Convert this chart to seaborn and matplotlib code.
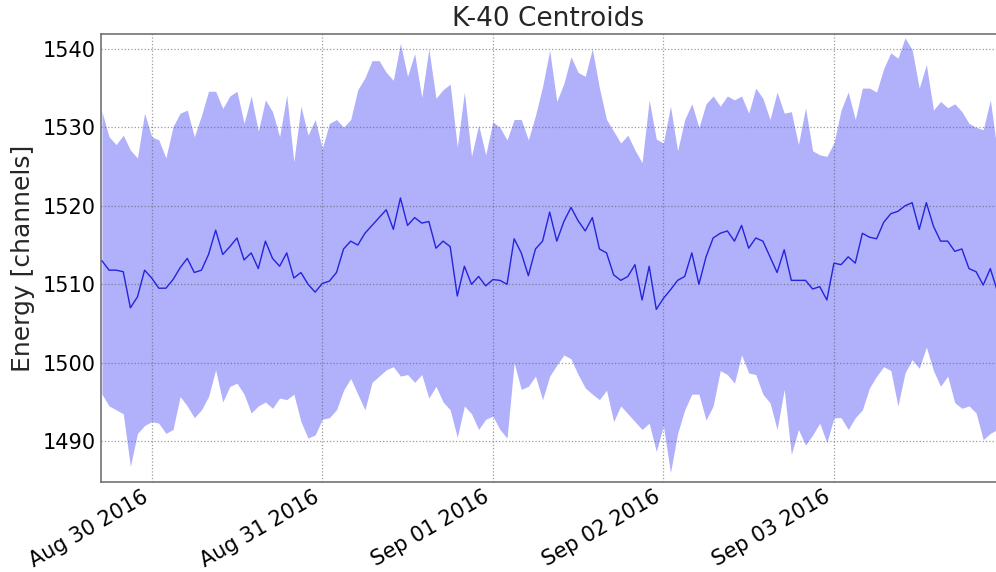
import pandas as pd
import matplotlib
matplotlib.use("Agg")
import matplotlib.pyplot as plt
import matplotlib.dates as mdates
import seaborn as sns

# hourly K-40 peak centroid and band, starting Aug 29 17:00
start = "2016-08-29 17:00"

centroid = [
    1513.0, 1511.8, 1511.8, 1511.6, 1507.0, 1508.4, 1511.8,
    1510.8, 1509.5, 1509.5, 1510.6, 1512.1, 1513.3, 1511.5, 1511.8, 1513.8, 1516.9, 1513.8, 1514.8, 1515.9, 1513.1,
    1514.0, 1512.0, 1515.5, 1513.3, 1512.3, 1514.0, 1510.8, 1511.5, 1510.0, 1509.0, 1510.1, 1510.4, 1511.5, 1514.5,
    1515.5, 1515.0, 1516.5, 1517.5, 1518.5, 1519.5, 1517.0, 1521.0,
    1517.5, 1518.5, 1517.8, 1518.0, 1514.6, 1515.5, 1514.8, 1508.5, 1512.3, 1510.0, 1511.0, 1509.8, 1510.6, 1510.5,
    1510.0, 1515.8, 1514.0, 1511.1, 1514.5, 1515.5, 1519.2,
    1515.5, 1518.0, 1519.8, 1518.1, 1516.8, 1518.5, 1514.5, 1514.0, 1511.2, 1510.5, 1511.0, 1512.5, 1508.0, 1512.3,
    1506.8, 1508.2, 1509.3, 1510.5, 1511.0, 1514.0, 1510.0,
    1513.5, 1515.9, 1516.5, 1516.8, 1515.5, 1517.5, 1514.6, 1515.9, 1515.5, 1513.5, 1511.5, 1514.4, 1510.5, 1510.5,
    1510.5, 1509.4, 1509.7, 1508.0, 1512.7, 1512.5, 1513.5,
    1512.7, 1516.5, 1516.0, 1515.8, 1517.9, 1519.0, 1519.3, 1520.0, 1520.4, 1517.0, 1520.4, 1517.4, 1515.5, 1515.5,
    1514.2, 1514.5, 1512.0, 1511.6, 1509.9, 1512.0, 1509.1,
]

upper = [
    1532.0, 1528.8, 1527.8, 1529.0, 1527.1, 1526.1, 1531.8,
    1528.8, 1528.4, 1526.1, 1530.1, 1531.8, 1532.2, 1528.8, 1531.5, 1534.6, 1534.6, 1532.4, 1534.0, 1534.6, 1530.5,
    1534.0, 1529.5, 1533.5, 1532.0, 1528.8, 1534.1, 1525.6, 1532.7, 1529.0, 1531.0, 1527.3, 1530.5, 1531.0, 1530.0,
    1531.0, 1534.8, 1536.3, 1538.5, 1538.5, 1537.0, 1536.0, 1540.7,
    1536.5, 1539.4, 1533.8, 1540.0, 1533.7, 1534.8, 1535.5, 1527.5, 1534.5, 1526.3, 1530.3, 1526.5, 1530.7, 1530.0,
    1528.4, 1531.0, 1531.0, 1528.4, 1531.5, 1535.2, 1539.8,
    1533.3, 1535.6, 1539.0, 1537.0, 1536.5, 1540.0, 1535.0, 1531.0, 1529.5, 1528.0, 1529.0, 1527.1, 1525.5, 1533.5,
    1528.5, 1528.0, 1532.7, 1527.0, 1531.0, 1533.0, 1530.0,
    1533.0, 1534.0, 1532.7, 1534.0, 1533.5, 1534.0, 1531.8, 1535.0, 1533.7, 1531.0, 1534.5, 1531.8, 1532.0, 1527.8,
    1532.5, 1527.0, 1526.5, 1526.3, 1528.0, 1532.2, 1534.5,
    1531.0, 1535.0, 1535.0, 1534.5, 1537.5, 1539.5, 1538.8, 1541.4, 1539.9, 1535.0, 1538.0, 1532.2, 1533.3, 1532.5,
    1533.0, 1532.0, 1530.5, 1530.0, 1529.7, 1533.5, 1526.8,
]

lower = [
    1496.0, 1494.5, 1494.0, 1493.5, 1486.8, 1491.0, 1492.0,
    1492.5, 1492.3, 1491.0, 1491.5, 1495.7, 1494.5, 1493.0, 1494.0, 1495.7, 1499.1, 1495.0, 1497.0, 1497.4, 1496.0,
    1493.6, 1494.5, 1495.0, 1494.2, 1495.5, 1495.3, 1496.0, 1492.5, 1490.4, 1490.8, 1492.8, 1493.0, 1494.0, 1496.5,
    1498.0, 1496.0, 1494.0, 1497.5, 1498.3, 1499.1, 1499.5, 1498.3,
    1498.5, 1497.5, 1498.5, 1495.5, 1497.0, 1495.0, 1494.0, 1490.5, 1494.5, 1493.5, 1491.5, 1492.8, 1493.2, 1491.5,
    1490.4, 1500.0, 1496.6, 1497.0, 1498.3, 1495.3, 1498.3,
    1499.7, 1501.0, 1500.5, 1498.5, 1496.8, 1496.0, 1495.3, 1496.5, 1492.5, 1494.5, 1493.5, 1492.5, 1491.5, 1492.3,
    1488.7, 1492.0, 1486.0, 1491.0, 1494.0, 1496.0, 1496.0,
    1492.7, 1494.5, 1499.0, 1498.5, 1497.4, 1501.0, 1498.7, 1498.5, 1496.0, 1494.9, 1491.5, 1496.6, 1488.3, 1491.5,
    1489.5, 1490.8, 1492.3, 1489.8, 1493.0, 1493.0, 1491.5,
    1493.0, 1494.0, 1496.8, 1498.3, 1499.5, 1499.0, 1494.5, 1498.7, 1500.4, 1499.3, 1502.0, 1499.0, 1497.0, 1498.3,
    1494.9, 1494.2, 1494.5, 1493.6, 1490.2, 1491.0, 1491.5,
]

tick_days = ["2016-08-30", "2016-08-31", "2016-09-01", "2016-09-02", "2016-09-03"]
y_ticks = [1490, 1500, 1510, 1520, 1530, 1540]

times = pd.date_range(start, periods=len(centroid), freq="h")
df = pd.DataFrame({"time": times, "centroid": centroid, "upper": upper, "lower": lower})

sns.set_style("white")
plt.rcParams["font.family"] = ["DejaVu Sans"]

fig = plt.figure(figsize=(9.96, 5.72), dpi=100)
ax = fig.add_axes([0.1014, 0.1573, 0.8986, 0.7833])

# band
ax.fill_between(df["time"], df["lower"], df["upper"], color="#b0b0fb", linewidth=0, zorder=1)
# centroid line
sns.lineplot(data=df, x="time", y="centroid", color="#2424dc", linewidth=1.0, ax=ax, zorder=3)

ax.set_xlim(pd.Timestamp("2016-08-29 16:52"), pd.Timestamp("2016-09-03 22:48"))
ax.set_ylim(1484.8, 1541.9)
ax.set_xticks(pd.to_datetime(tick_days))
ax.set_yticks(y_ticks)
ax.xaxis.set_major_formatter(mdates.DateFormatter("%b %d %Y"))

ax.set_axisbelow(False)
ax.grid(True, linestyle=":", color="0.35", alpha=0.6, linewidth=0.9)

for side in ["left", "top", "bottom"]:
    ax.spines[side].set_color("0.45")
    ax.spines[side].set_linewidth(1.2)
ax.spines["right"].set_visible(False)

ax.tick_params(direction="in", length=4, labelsize=15, colors="0.45", labelcolor="black")
for lbl in ax.get_xticklabels():
    lbl.set_rotation(30)
    lbl.set_ha("right")

ax.set_xlabel("")
ax.set_ylabel("Energy [channels]", fontsize=18, labelpad=6)
ax.set_title("K-40 Centroids", fontsize=19, pad=6)

fig.savefig("out.png", dpi=100)
